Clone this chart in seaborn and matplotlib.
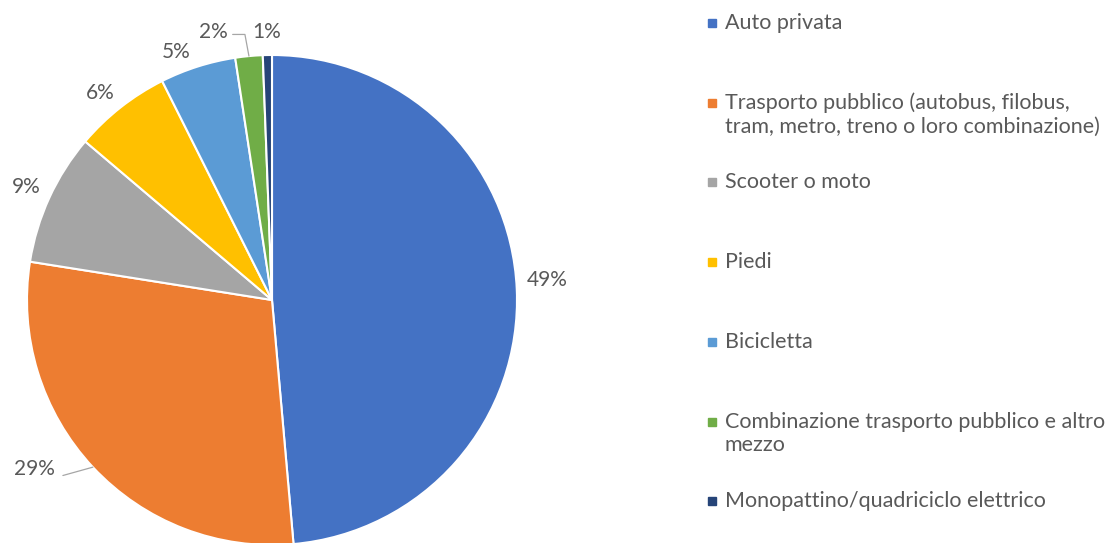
import numpy as np
import matplotlib.pyplot as plt
import seaborn as sns

# dati: quota di spostamenti per mezzo di trasporto (%)
categorie = [
    "Auto privata",
    "Trasporto pubblico (autobus, filobus,\ntram, metro, treno o loro combinazione)",
    "Scooter o moto",
    "Piedi",
    "Bicicletta",
    "Combinazione trasporto pubblico e altro\nmezzo",
    "Monopattino/quadriciclo elettrico",
]
quote = [48.6, 28.9, 8.7, 6.4, 5.0, 1.8, 0.6]
colori = ["#4472C4", "#ED7D31", "#A5A5A5", "#FFC000", "#5B9BD5", "#70AD47", "#264478"]

# posizione delle etichette: distanza dal centro e spostamento angolare (gradi)
label_r = [1.126, 1.19, 1.105, 1.098, 1.084, 1.12, 1.094]
label_shift = [1.7, -7.5, 0.0, 1.6, 3.4, 7.0, 0.0]
con_linea = [False, True, False, False, False, True, False]

sns.set_theme(style="white")
plt.rcParams["font.family"] = ["Lato", "DejaVu Sans"]
testo = "#595959"

fig = plt.figure(figsize=(11.2, 5.43), dpi=100)
W, H = 1120, 543
cx, cy, R = 272, 300, 245  # centro e raggio della torta in pixel

ax = fig.add_axes([0, 0, 590 / W, 1])

wedges, _ = ax.pie(
    quote, colors=sns.color_palette(colori), startangle=90, counterclock=False,
    wedgeprops=dict(edgecolor="white", linewidth=1.5),
)
# la torta esce un po' dal bordo inferiore, come nell'originale
ax.set_xlim(-cx / R, (590 - cx) / R)
ax.set_ylim((cy - H) / R, cy / R)
ax.set_aspect("equal")
ax.axis("off")

for w, v, r, s, linea in zip(wedges, quote, label_r, label_shift, con_linea):
    mid = (w.theta1 + w.theta2) / 2
    ang = np.deg2rad(mid + s)
    tx, ty = r * np.cos(ang), r * np.sin(ang)
    ax.text(tx, ty, f"{v:.0f}%", ha="center", va="center", fontsize=15, color=testo)
    if linea:
        ex, ey = np.cos(np.deg2rad(mid)), np.sin(np.deg2rad(mid))
        if ty > 1:
            # etichetta in alto: linea orizzontale poi verso la fetta
            sx = tx + 0.08
            ax.plot([sx, sx + 0.05, ex], [ty - 0.01, ty - 0.01, ey], color="#A6A6A6", lw=0.9)
        else:
            sx = tx + 0.115
            ax.plot([sx, ex], [ty - 0.025, ey], color="#A6A6A6", lw=0.9)

# legenda disegnata a mano (quadratino allineato alla prima riga)
y0, passo = 23, 79.7
for i, (cat, col) in enumerate(zip(categorie, colori)):
    yc = y0 + i * passo
    fig.patches.append(plt.Rectangle((708 / W, 1 - (yc + 4) / H), 8 / W, 8 / H,
                                     transform=fig.transFigure, color=col, figure=fig))
    fig.text(725 / W, 1 - (yc - 10) / H, cat, ha="left", va="top", fontsize=15.5,
             color=testo, linespacing=1.2)

fig.savefig("out.png", dpi=100)
